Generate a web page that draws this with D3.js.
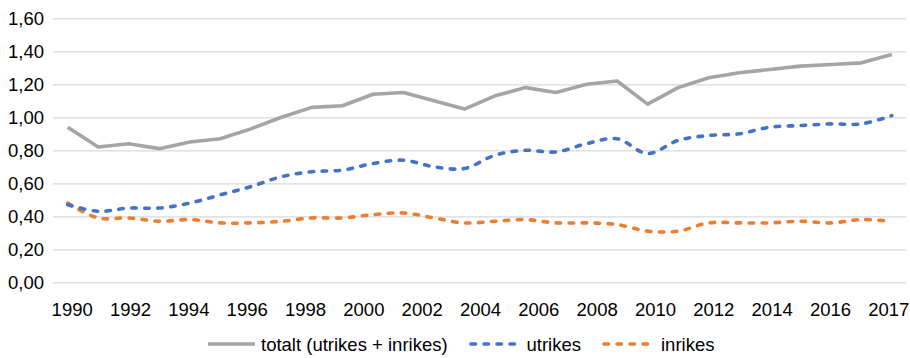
<!DOCTYPE html>
<html>
<head>
<meta charset="utf-8">
<script src="https://cdn.jsdelivr.net/npm/d3@7"></script>
<style>
  html, body { margin: 0; padding: 0; background: #fff; }
  svg { display: block; font-family: "Liberation Sans", Arial, sans-serif; }
</style>
</head>
<body>
<svg id="chart" width="910" height="358"></svg>
<script>
// Years of the series
const years = d3.range(1990, 2018);

// Category labels shown under the plot
const tickLabels = ["1990", "1992", "1994", "1996", "1998", "2000", "2002", "2004",
                    "2006", "2008", "2010", "2012", "2014", "2016", "2017"];

// Y axis ticks
const yTicks = [0, 0.2, 0.4, 0.6, 0.8, 1.0, 1.2, 1.4, 1.6];

// totalt (utrikes + inrikes)
const totalt = [0.94, 0.82, 0.84, 0.81, 0.85, 0.87, 0.93, 1.00, 1.06, 1.07,
                1.14, 1.15, 1.10, 1.05, 1.13, 1.18, 1.15, 1.20, 1.22, 1.08,
                1.18, 1.24, 1.27, 1.29, 1.31, 1.32, 1.33, 1.38];

// utrikes
const utrikes = [0.47, 0.43, 0.45, 0.45, 0.48, 0.53, 0.58, 0.64, 0.67, 0.68,
                 0.72, 0.74, 0.70, 0.69, 0.77, 0.80, 0.79, 0.84, 0.87, 0.78,
                 0.86, 0.89, 0.90, 0.94, 0.95, 0.96, 0.96, 1.01];

// inrikes
const inrikes = [0.48, 0.39, 0.39, 0.37, 0.38, 0.36, 0.36, 0.37, 0.39, 0.39,
                 0.41, 0.42, 0.39, 0.36, 0.37, 0.38, 0.36, 0.36, 0.35, 0.31,
                 0.31, 0.36, 0.36, 0.36, 0.37, 0.36, 0.38, 0.37];

const seriesNames = ["totalt (utrikes + inrikes)", "utrikes", "inrikes"];
const seriesColors = ["#A5A5A5", "#4472C4", "#ED7D31"];

const svg = d3.select("#chart");
const fontSize = 18.5;

const plotLeft = 53, plotRight = 906, plotTop = 18.3, plotBottom = 282.3;

const y = d3.scaleLinear().domain([0, 1.6]).range([plotBottom, plotTop]);
const x = d3.scalePoint().domain(years).range([67.7, 891.8]);
const xLab = d3.scalePoint().domain(tickLabels).range([71.7, 888.3]);

const fmt = v => d3.format(".2f")(v).replace(".", ",");

// Horizontal gridlines and value labels
const yAxis = d3.axisLeft(y)
  .tickValues(yTicks)
  .tickSize(-(plotRight - plotLeft))
  .tickPadding(9)
  .tickFormat(fmt);

const gy = svg.append("g")
  .attr("transform", `translate(${plotLeft},0)`)
  .call(yAxis);
gy.select(".domain").remove();
gy.selectAll(".tick line").attr("stroke", "#D9D9D9").attr("stroke-width", 1.3);
gy.selectAll(".tick text")
  .attr("fill", "#000")
  .attr("font-size", fontSize)
  .attr("font-family", "Liberation Sans, Arial, sans-serif");

// Category labels
const xAxis = d3.axisBottom(xLab).tickSize(0).tickPadding(0);
const gx = svg.append("g")
  .attr("transform", `translate(0,${plotBottom})`)
  .call(xAxis);
gx.select(".domain").remove();
gx.selectAll(".tick text")
  .attr("fill", "#000")
  .attr("font-size", fontSize)
  .attr("font-family", "Liberation Sans, Arial, sans-serif")
  .attr("dy", null)
  .attr("y", 33.5);

// Series lines
const straight = d3.line().x((d, i) => x(years[i])).y(d => y(d));
const smooth = d3.line().x((d, i) => x(years[i])).y(d => y(d)).curve(d3.curveCatmullRom.alpha(0.5));

const dash = "4.5,8.5";

svg.append("path")
  .datum(inrikes)
  .attr("d", smooth)
  .attr("fill", "none")
  .attr("stroke", seriesColors[2])
  .attr("stroke-width", 3.6)
  .attr("stroke-linecap", "round")
  .attr("stroke-dasharray", dash);

svg.append("path")
  .datum(utrikes)
  .attr("d", smooth)
  .attr("fill", "none")
  .attr("stroke", seriesColors[1])
  .attr("stroke-width", 3.6)
  .attr("stroke-linecap", "round")
  .attr("stroke-dasharray", dash);

svg.append("path")
  .datum(totalt)
  .attr("d", straight)
  .attr("fill", "none")
  .attr("stroke", seriesColors[0])
  .attr("stroke-width", 3.6)
  .attr("stroke-linejoin", "round");

// Legend
const legendItems = [
  { name: seriesNames[0], color: seriesColors[0], dashed: false, x0: 208, x1: 255, tx: 261 },
  { name: seriesNames[1], color: seriesColors[1], dashed: true,  x0: 471, x1: 516, tx: 526.5 },
  { name: seriesNames[2], color: seriesColors[2], dashed: true,  x0: 604, x1: 650, tx: 661 }
];
const legendY = 344;
const lg = svg.append("g");
legendItems.forEach(it => {
  lg.append("line")
    .attr("x1", it.x0).attr("x2", it.x1)
    .attr("y1", legendY).attr("y2", legendY)
    .attr("stroke", it.color)
    .attr("stroke-width", 3.6)
    .attr("stroke-linecap", it.dashed ? "round" : "butt")
    .attr("stroke-dasharray", it.dashed ? dash : null);
  lg.append("text")
    .attr("x", it.tx)
    .attr("y", legendY + 6.5)
    .attr("font-size", fontSize)
    .attr("fill", "#000")
    .text(it.name);
});
</script>
</body>
</html>
